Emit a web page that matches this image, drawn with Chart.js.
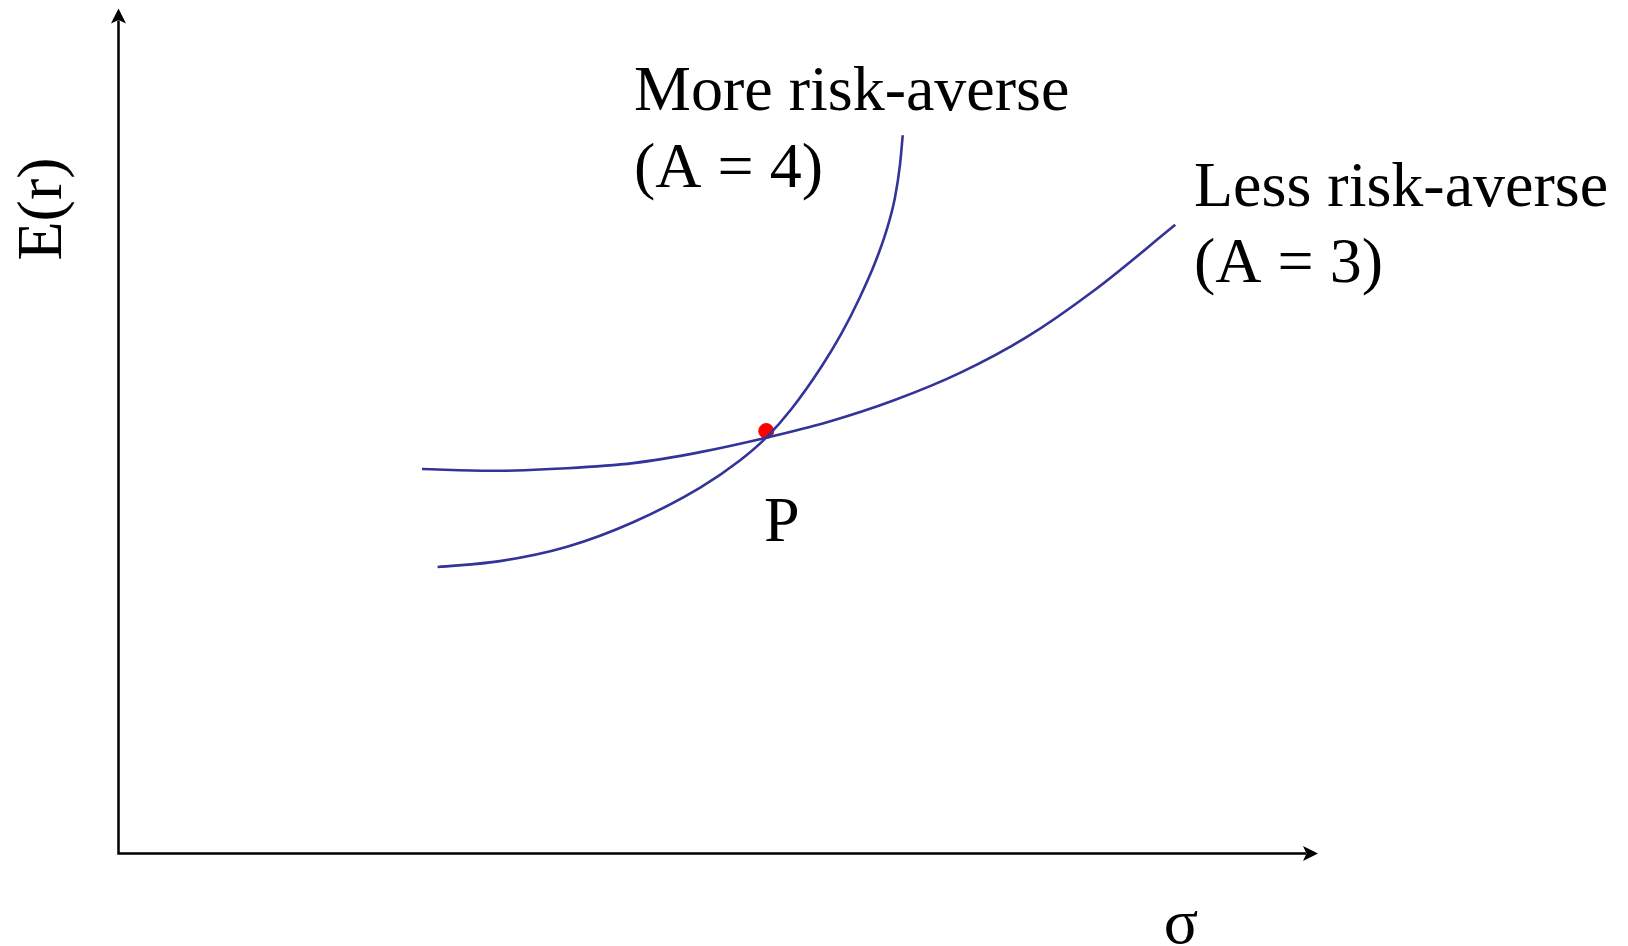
<!DOCTYPE html>
<html>
<head>
<meta charset="utf-8">
<title>Indifference curves</title>
<script src="https://cdn.jsdelivr.net/npm/chart.js@4.4.1/dist/chart.umd.min.js"></script>
<style>
  html, body { margin: 0; padding: 0; background: #ffffff; }
  #wrap { width: 1628px; height: 946px; }
</style>
</head>
<body>
<div id="wrap"><canvas id="chart" width="1628" height="946"></canvas></div>
<script>
// Standard deviation (sigma) and expected return E(r) along each indifference curve
const sigmaA4 = [26.6, 31.8, 37.4, 42.9, 48.5, 51.8, 54.06, 56.1, 58.6, 60.3, 61.8, 63.07, 64.04, 64.73, 65.15, 65.38];
const returnA4 = [33.9, 34.6, 36.3, 39.2, 43.3, 46.5, 49.3, 52.6, 57.6, 61.6, 65.8, 69.9, 73.8, 77.6, 81.5, 85.0];

const sigmaA3 = [25.3, 31.0, 37.4, 42.9, 48.5, 54.0, 59.0, 64.6, 70.2, 75.7, 81.3, 88.1];
const returnA3 = [45.5, 45.3, 45.6, 46.2, 47.5, 49.2, 51.0, 53.6, 56.9, 61.1, 66.6, 74.4];

// Portfolio P, where the two curves meet
const sigmaP = [54.0];
const returnP = [50.0];

const toPoints = (xs, ys) => xs.map((x, i) => ({ x: x, y: ys[i] }));

const curveColor = '#333399';
const serif = '"Liberation Serif", "Times New Roman", serif';

// Axes with arrowheads, axis titles and curve labels
const diagramPlugin = {
  id: 'diagram',
  afterDatasetsDraw(chart) {
    const ctx = chart.ctx;
    const xs = chart.scales.x, ys = chart.scales.y;
    const x0 = xs.getPixelForValue(xs.min), x1 = xs.getPixelForValue(xs.max);
    const y0 = ys.getPixelForValue(ys.min), y1 = ys.getPixelForValue(ys.max);

    ctx.save();
    ctx.strokeStyle = '#000';
    ctx.fillStyle = '#000';
    ctx.lineWidth = 2.5;
    ctx.lineCap = 'butt';
    ctx.beginPath();
    ctx.moveTo(x0, y1 + 12);
    ctx.lineTo(x0, y0);
    ctx.lineTo(x1 - 12, y0);
    ctx.stroke();

    // vertical arrowhead
    ctx.beginPath();
    ctx.moveTo(x0, y1);
    ctx.lineTo(x0 + 7.5, y1 + 15);
    ctx.lineTo(x0, y1 + 11.5);
    ctx.lineTo(x0 - 7.5, y1 + 15);
    ctx.closePath();
    ctx.fill();

    // horizontal arrowhead
    ctx.beginPath();
    ctx.moveTo(x1, y0);
    ctx.lineTo(x1 - 15, y0 - 7.5);
    ctx.lineTo(x1 - 11.5, y0);
    ctx.lineTo(x1 - 15, y0 + 7.5);
    ctx.closePath();
    ctx.fill();

    ctx.font = '64px ' + serif;
    ctx.textBaseline = 'alphabetic';
    ctx.textAlign = 'left';
    ctx.fillText('More risk-averse', 634, 110);
    ctx.fillText('(A = 4)', 634, 187);
    ctx.fillText('Less risk-averse', 1194, 206);
    ctx.fillText('(A = 3)', 1194, 282);
    ctx.fillText('P', 764, 541);

    ctx.textAlign = 'center';
    ctx.fillText('\u03C3', 1181, 943);

    ctx.translate(61, 209);
    ctx.rotate(-Math.PI / 2);
    ctx.fillText('E(r)', 0, 0);
    ctx.restore();
  }
};

const curveStyle = {
  borderColor: curveColor,
  borderWidth: 2.6,
  pointRadius: 0,
  cubicInterpolationMode: 'monotone',
  fill: false
};

new Chart(document.getElementById('chart'), {
  type: 'line',
  data: {
    datasets: [
      Object.assign({ label: 'More risk-averse (A = 4)', data: toPoints(sigmaA4, returnA4) }, curveStyle),
      Object.assign({ label: 'Less risk-averse (A = 3)', data: toPoints(sigmaA3, returnA3) }, curveStyle),
      {
        type: 'scatter',
        label: 'P',
        data: toPoints(sigmaP, returnP),
        backgroundColor: '#ff0000',
        borderColor: '#ff0000',
        pointRadius: 7.5,
        pointHoverRadius: 7.5
      }
    ]
  },
  options: {
    responsive: false,
    animation: false,
    events: [],
    layout: { padding: { left: 118.5, right: 310, top: 7, bottom: 92.5 } },
    plugins: {
      legend: { display: false },
      tooltip: { enabled: false }
    },
    scales: {
      x: { type: 'linear', min: 0, max: 100, display: false },
      y: { type: 'linear', min: 0, max: 100, display: false }
    }
  },
  plugins: [diagramPlugin]
});
</script>
</body>
</html>
